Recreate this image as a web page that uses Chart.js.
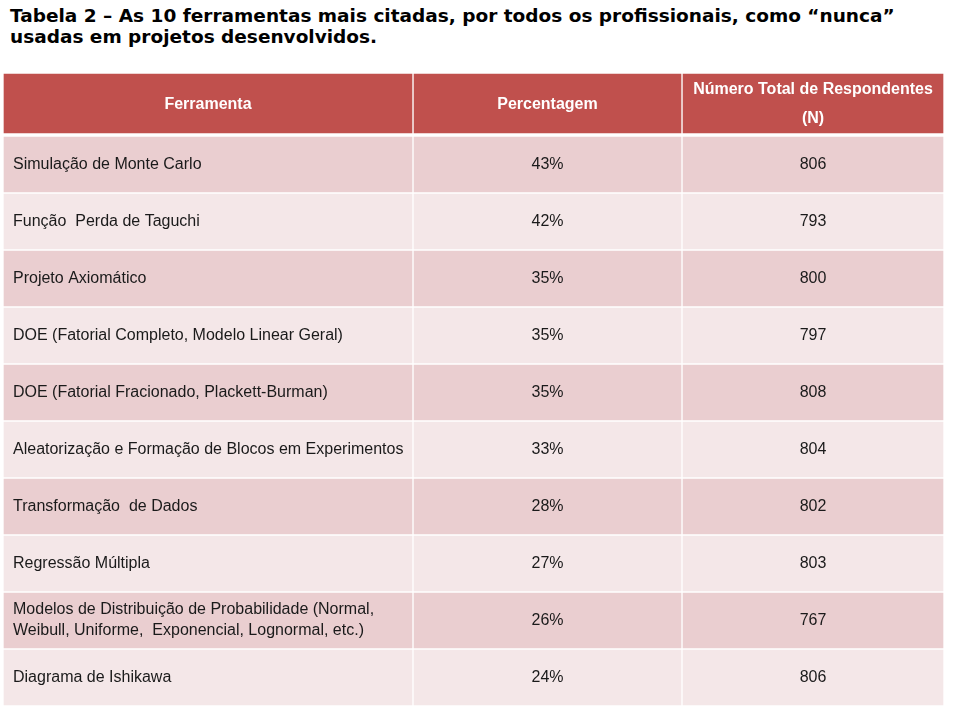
<!DOCTYPE html>
<html>
<head>
<meta charset="utf-8">
<script src="https://cdn.jsdelivr.net/npm/chart.js@4.4.1/dist/chart.umd.min.js"></script>
<style>
  html, body { margin: 0; padding: 0; background: #fff; }
  #wrap { position: relative; width: 960px; height: 711px; }
  #title {
    position: absolute; left: 10px; top: 5px;
    font: bold 18.5px "DejaVu Sans", Verdana, sans-serif;
    line-height: 21px; color: #000; white-space: nowrap;
  }
  canvas { position: absolute; left: 0; }
  #head { top: 73px; }
  #body { top: 135px; }
</style>
</head>
<body>
<div id="wrap">
  <div id="title">Tabela 2 – As 10 ferramentas mais citadas, por todos os profissionais, como “nunca”<br>usadas em projetos desenvolvidos.</div>
  <canvas id="head" width="960" height="62"></canvas>
  <canvas id="body" width="960" height="571"></canvas>
</div>
<script>
// column headers
const headers = ['Ferramenta', 'Percentagem', ['Número Total de Respondentes', '(N)']];

// table rows
const tools = [
  'Simulação de Monte Carlo',
  'Função  Perda de Taguchi',
  'Projeto Axiomático',
  'DOE (Fatorial Completo, Modelo Linear Geral)',
  'DOE (Fatorial Fracionado, Plackett-Burman)',
  'Aleatorização e Formação de Blocos em Experimentos',
  'Transformação  de Dados',
  'Regressão Múltipla',
  ['Modelos de Distribuição de Probabilidade (Normal,', 'Weibull, Uniforme,  Exponencial, Lognormal, etc.)'],
  'Diagrama de Ishikawa'
];
const percent = [43, 42, 35, 35, 35, 33, 28, 27, 26, 24];
const respondents = [806, 793, 800, 797, 808, 804, 802, 803, 767, 806];

const colEdges = [0, 410, 679, 941];

const HEAD = '#C0504D', BAND1 = '#EACED0', BAND2 = '#F4E7E8';

function drawLines(ctx, txt, px, py, gap) {
  const arr = Array.isArray(txt) ? txt : [txt];
  arr.forEach((l, k) => ctx.fillText(l, px, py + (k - (arr.length - 1) / 2) * gap));
}

function makeTable(canvas, labels, colorFn, textFn, pad) {
  const datasets = [0, 1, 2].map(c => ({
    data: labels.map(() => [colEdges[c], colEdges[c + 1]]),
    backgroundColor: colorFn,
    borderColor: '#ffffff',
    borderWidth: 1,
    borderSkipped: false,
    barPercentage: 1,
    categoryPercentage: 1,
    grouped: false
  }));
  return new Chart(canvas, {
    type: 'bar',
    data: { labels, datasets },
    options: {
      indexAxis: 'y',
      responsive: false,
      animation: false,
      layout: { padding: pad },
      scales: {
        x: { type: 'linear', min: colEdges[0], max: colEdges[3], display: false },
        y: { type: 'category', display: false }
      },
      plugins: { legend: { display: false }, tooltip: { enabled: false } }
    },
    plugins: [{ id: 'cellText', afterDatasetsDraw: textFn }]
  });
}

const mid = (x, c) => x.getPixelForValue((colEdges[c] + colEdges[c + 1]) / 2);

// header row
makeTable(document.getElementById('head'), ['header'], () => HEAD, chart => {
  const { ctx, scales: { x, y } } = chart;
  ctx.save();
  ctx.fillStyle = '#ffffff';
  ctx.font = 'bold 16px "Liberation Sans", Arial, sans-serif';
  ctx.textAlign = 'center';
  ctx.textBaseline = 'middle';
  const hy = y.getPixelForValue(0) + 1;
  headers.forEach((h, c) => drawLines(ctx, h, mid(x, c), hy, 29));
  ctx.restore();
}, { left: 3, right: 16, top: 0, bottom: 1 });

// body rows
makeTable(document.getElementById('body'), tools.map((t, i) => 'r' + i),
  ctx => (ctx.dataIndex % 2 === 0 ? BAND1 : BAND2), chart => {
  const { ctx, scales: { x, y } } = chart;
  ctx.save();
  ctx.fillStyle = '#1a1a1a';
  ctx.font = '16px "Liberation Sans", Arial, sans-serif';
  ctx.textBaseline = 'middle';
  tools.forEach((t, i) => {
    const py = y.getPixelForValue(i);
    ctx.textAlign = 'left';
    drawLines(ctx, t, x.getPixelForValue(colEdges[0]) + 10, py, 21);
    ctx.textAlign = 'center';
    ctx.fillText(percent[i] + '%', mid(x, 1), py);
    ctx.fillText(String(respondents[i]), mid(x, 2), py);
  });
  ctx.restore();
}, { left: 3, right: 16, top: 1, bottom: 0 });
</script>
</body>
</html>
